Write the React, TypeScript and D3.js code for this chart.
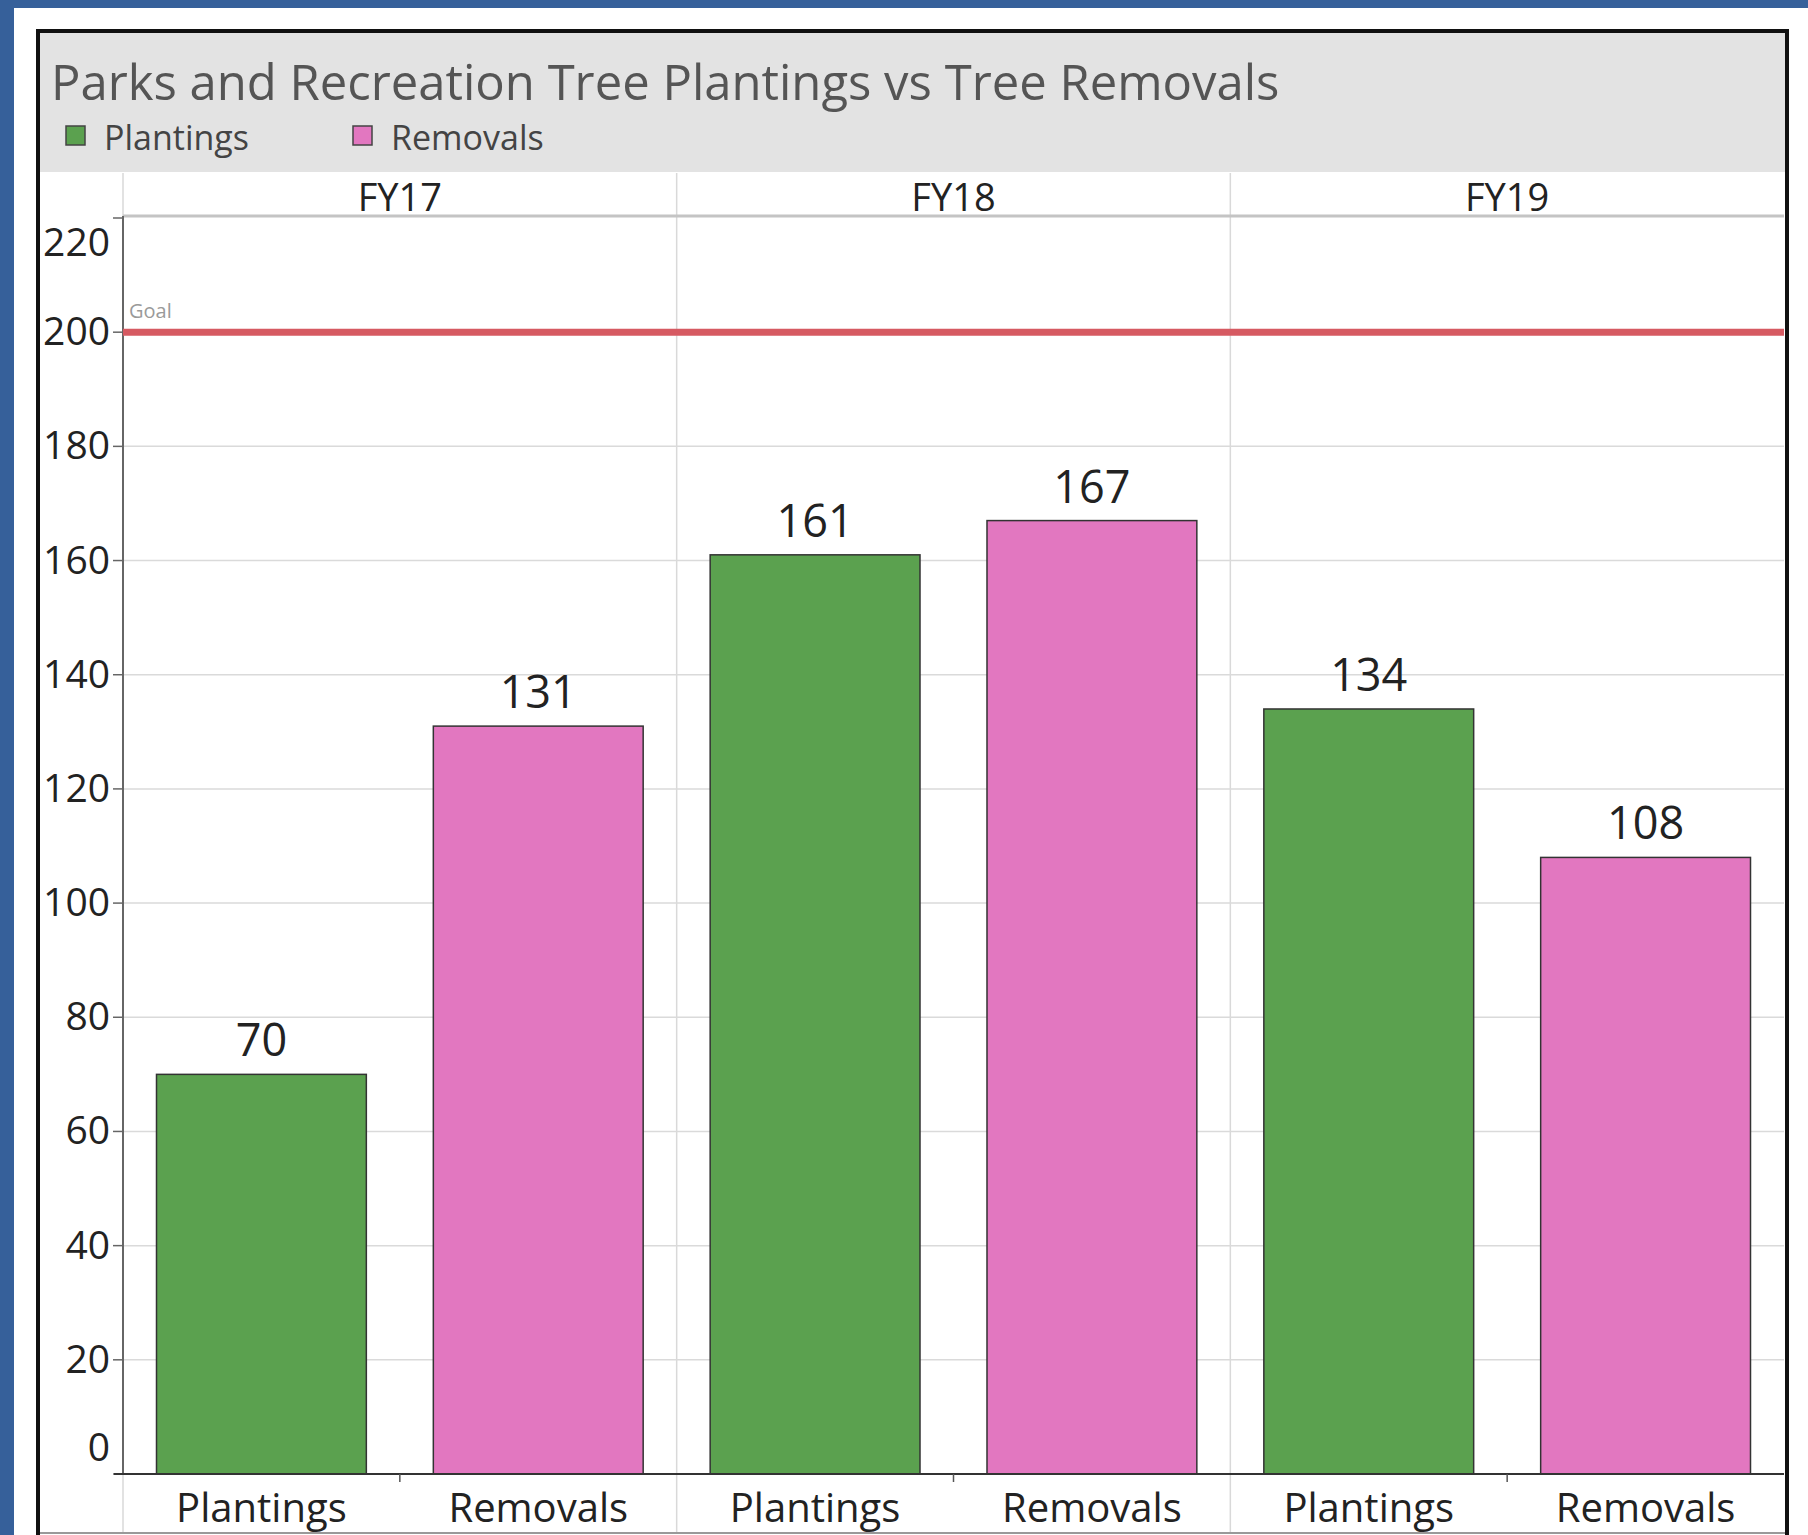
import React from "react";
import * as d3 from "d3";

// values
const years = ["FY17", "FY18", "FY19"];
const measures = ["Plantings", "Removals"];
const plantings = [70, 161, 134];
const removals = [131, 167, 108];
const yTicks = [0, 20, 40, 60, 80, 100, 120, 140, 160, 180, 200, 220];
const goal = 200;

const colors: Record<string, string> = {
  Plantings: "#5ba14f",
  Removals: "#e277c0",
};

const W = 1808;
const H = 1535;
const plot = { left: 123, right: 1784, top: 216, bottom: 1474 };
const font = "'Open Sans', 'Noto Sans', sans-serif";

const App = () => {
  const y = d3.scaleLinear().domain([0, 220]).range([plot.bottom, plot.top + 2]);
  const xYear = d3.scaleBand().domain(years).range([plot.left, plot.right]);
  const xMeasure = d3
    .scaleBand()
    .domain(measures)
    .range([0, xYear.bandwidth()])
    .paddingInner(0.242)
    .paddingOuter(0.121);

  const rows = years.flatMap((yr, i) => [
    { year: yr, measure: "Plantings", value: plantings[i] },
    { year: yr, measure: "Removals", value: removals[i] },
  ]);

  const paneEdges = years.map((yr) => xYear(yr) as number);

  return (
    <div style={{ position: "absolute", left: 0, top: 0 }}>
      <svg width={W} height={H} style={{ display: "block", fontFamily: font }}>
        <rect width={W} height={H} fill="#36609a" />
        <rect x={14} y={8} width={W - 14} height={H - 8} fill="#fff" />

        {/* header band */}
        <rect x={40} y={33} width={1745} height={139} fill="#e3e3e3" />
        <text x={51} y={100} fontSize={49} fill="#555">
          Parks and Recreation Tree Plantings vs Tree Removals
        </text>
        {measures.map((m, i) => (
          <g key={m} transform={`translate(${66 + i * 287},0)`}>
            <rect x={0} y={126} width={19} height={19} fill={colors[m]} stroke="#444" strokeWidth={1.5} />
            <text x={38} y={150} fontSize={34} fill="#444">
              {m}
            </text>
          </g>
        ))}

        {/* pane separators */}
        {paneEdges.map((px, i) => (
          <line key={i} x1={px} x2={px} y1={173} y2={1533} stroke="#d9d9d9" strokeWidth={1.5} />
        ))}

        {/* year headers */}
        {years.map((yr) => (
          <text
            key={yr}
            x={(xYear(yr) as number) + xYear.bandwidth() / 2}
            y={211}
            fontSize={38}
            textAnchor="middle"
            fill="#222"
          >
            {yr}
          </text>
        ))}
        <line x1={plot.left} x2={plot.right} y1={plot.top} y2={plot.top} stroke="#c4c4c4" strokeWidth={3} />

        {/* gridlines */}
        {yTicks
          .filter((t) => t > 0 && t < 200)
          .map((t) => (
            <line key={t} x1={plot.left} x2={plot.right} y1={y(t)} y2={y(t)} stroke="#dadada" strokeWidth={1.5} />
          ))}

        {/* y axis */}
        <line x1={plot.left} x2={plot.left} y1={plot.top} y2={plot.bottom} stroke="#666" strokeWidth={2} />
        {yTicks.map((t) => {
          let ly = y(t) + 13;
          if (t === 0) ly = y(t) - 13;
          if (t === 220) ly = y(t) + 38;
          return (
            <g key={t}>
              <line x1={113} x2={plot.left} y1={y(t)} y2={y(t)} stroke="#666" strokeWidth={1.5} />
              <text x={110} y={ly} fontSize={39} textAnchor="end" fill="#222">
                {t}
              </text>
            </g>
          );
        })}

        {/* bars */}
        {rows.map((d) => {
          const bx = (xYear(d.year) as number) + (xMeasure(d.measure) as number);
          return (
            <g key={d.year + d.measure}>
              <rect
                x={bx}
                y={y(d.value)}
                width={xMeasure.bandwidth()}
                height={y(0) - y(d.value)}
                fill={colors[d.measure]}
                stroke="#333"
                strokeWidth={1.5}
              />
              <text
                x={bx + xMeasure.bandwidth() / 2}
                y={y(d.value) - 18}
                fontSize={45}
                textAnchor="middle"
                fill="#222"
              >
                {d.value}
              </text>
            </g>
          );
        })}

        {/* goal reference line */}
        <line x1={plot.left} x2={plot.right} y1={y(goal)} y2={y(goal)} stroke="#d65a62" strokeWidth={7} />
        <text x={129} y={y(goal) - 14} fontSize={20} fill="#9a9a9a">
          Goal
        </text>

        {/* x axis */}
        <line x1={114} x2={plot.right} y1={plot.bottom} y2={plot.bottom} stroke="#333" strokeWidth={2} />
        {years.map((yr) => {
          const cx = (xYear(yr) as number) + xYear.bandwidth() / 2;
          return <line key={yr} x1={cx} x2={cx} y1={plot.bottom} y2={plot.bottom + 8} stroke="#555" strokeWidth={1.5} />;
        })}
        {rows.map((d) => (
          <text
            key={"lbl" + d.year + d.measure}
            x={(xYear(d.year) as number) + (xMeasure(d.measure) as number) + xMeasure.bandwidth() / 2}
            y={1522}
            fontSize={40}
            textAnchor="middle"
            fill="#222"
          >
            {d.measure}
          </text>
        ))}
        <line x1={40} x2={1785} y1={1533} y2={1533} stroke="#999" strokeWidth={2} />

        {/* outer frame */}
        <rect x={38} y={31} width={1749} height={1560} fill="none" stroke="#111" strokeWidth={4} />
      </svg>
    </div>
  );
};

export default App;
